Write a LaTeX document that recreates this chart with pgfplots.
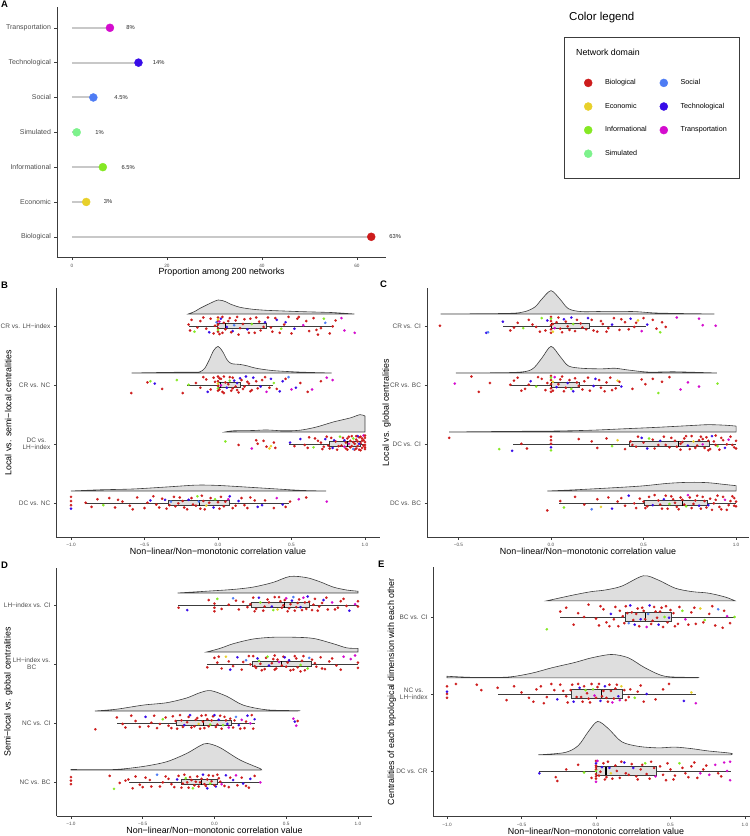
\documentclass[border=0pt]{standalone}
\usepackage{fontspec}
\setmainfont{Liberation Sans}
\usepackage{pgfplots}
\pgfplotsset{compat=1.18}
\usepgfplotslibrary{statistics}
\definecolor{bio}{RGB}{205,28,28}
\definecolor{eco}{RGB}{232,208,42}
\definecolor{inf}{RGB}{133,232,36}
\definecolor{sim}{RGB}{125,242,140}
\definecolor{soc}{RGB}{78,124,244}
\definecolor{tec}{RGB}{56,12,232}
\definecolor{tra}{RGB}{212,12,206}
\definecolor{axgray}{RGB}{60,60,60}
\definecolor{txtgray}{RGB}{77,77,77}
\definecolor{densgray}{RGB}{222,222,222}
\definecolor{seggray}{RGB}{200,200,200}
\tikzset{pct/.style={anchor=west, font=\fontsize{5.8}{6.5}\selectfont, text=black!85, inner sep=0pt}}
\pgfplotsset{
  base/.style={scale only axis, clip=false,
    axis x line*=bottom, axis y line*=left,
    axis line style={draw=axgray, line width=0.6pt},
    tick align=outside, major tick length=2.5pt,
    tick style={draw=axgray, line width=0.5pt},
    xticklabel style={font=\fontsize{4.7}{5.5}\selectfont, text=txtgray},
    yticklabel style={font=\fontsize{6.5}{7.4}\selectfont, text=txtgray, align=center},
    xlabel style={font=\fontsize{8.9}{10}\selectfont, at={(axis description cs:0.5,0)}, anchor=center, yshift=-14.5pt},
    ylabel style={font=\fontsize{8.9}{10}\selectfont, anchor=center},
  },
  rain/.style={base,
    xlabel={Non−linear/Non−monotonic correlation value},
    boxplot/draw direction=x,
    boxplot/box extend=0.1,
    boxplot/whisker extend=0,
    boxplot/every box/.style={draw=axgray, fill=black!30, fill opacity=0.4, line width=0.6pt},
    boxplot/every whisker/.style={draw=axgray, line width=0.5pt},
    boxplot/every median/.style={draw=black, line width=1.1pt},
  },
  dens/.style={fill=densgray, draw=axgray, line width=0.6pt, smooth, tension=0.5},
  pts/.style={only marks, scatter, scatter src=explicit symbolic, mark size=1.25pt,
    mark options={line width=0.15pt},
    scatter/classes={r={mark=*,bio}, e={mark=*,eco}, g={mark=*,inf}, s={mark=*,sim},
      l={mark=*,soc}, t={mark=*,tec}, m={mark=*,tra}}},
  seg/.style={draw=seggray, line width=2pt, forget plot},
}
\begin{document}
\begin{tikzpicture}
\useasboundingbox (0pt,0pt) rectangle (750pt,-836pt);

% ---------------- Panel A ----------------
\begin{axis}[base, at={(57pt,-257.7pt)}, anchor=south west, width=329.2pt, height=250.8pt,
  xmin=-3.15, xmax=66.15, ymin=0.4, ymax=7.6,
  xtick={0,20,40,60}, xticklabels={0,20,40,60},
  ytick={1,2,3,4,5,6,7},
  yticklabels={Biological,Economic,Informational,Simulated,Social,Technological,Transportation},
  yticklabel style={font=\fontsize{7}{8}\selectfont},
  xlabel={Proportion among 200 networks},
  legend columns=2, legend cell align=left,
  legend image code/.code={\draw[#1] plot coordinates {(0pt,0pt)};},
  legend style={at={(axis description cs:1.6009,0.7137)}, anchor=north west, draw=none, fill=none,
    inner sep=0pt, font=\fontsize{7.2}{8}\selectfont, row sep=15.6pt, nodes={inner sep=0pt},
    /tikz/every odd column/.style={column sep=12.8pt},
    /tikz/every even column/.style={column sep=4.8pt}},
]
\addplot[seg] coordinates {(0,1) (63,1)};
\addplot[seg] coordinates {(0,2) (3,2)};
\addplot[seg] coordinates {(0,3) (6.5,3)};
\addplot[seg] coordinates {(0,4) (1,4)};
\addplot[seg] coordinates {(0,5) (4.5,5)};
\addplot[seg] coordinates {(0,6) (14,6)};
\addplot[seg] coordinates {(0,7) (8,7)};
\addplot[only marks, mark=*, mark size=4pt, bio] coordinates {(63,1)};
\addlegendentry{\makebox[50pt][l]{Biological}}
\addplot[only marks, mark=*, mark size=4pt, soc] coordinates {(4.5,5)};
\addlegendentry{\makebox[50pt][l]{Social}}
\addplot[only marks, mark=*, mark size=4pt, eco] coordinates {(3,2)};
\addlegendentry{\makebox[50pt][l]{Economic}}
\addplot[only marks, mark=*, mark size=4pt, tec] coordinates {(14,6)};
\addlegendentry{\makebox[50pt][l]{Technological}}
\addplot[only marks, mark=*, mark size=4pt, inf] coordinates {(6.5,3)};
\addlegendentry{\makebox[50pt][l]{Informational}}
\addplot[only marks, mark=*, mark size=4pt, tra] coordinates {(8,7)};
\addlegendentry{\makebox[50pt][l]{Transportation}}
\addplot[only marks, mark=*, mark size=4pt, sim] coordinates {(1,4)};
\addlegendentry{\makebox[50pt][l]{Simulated}}
\node[pct] at (axis cs:66.8,1) {63\%};
\node[pct] at (axis cs:6.7,2) {3\%};
\node[pct] at (axis cs:10.4,3) {6.5\%};
\node[pct] at (axis cs:4.9,4) {1\%};
\node[pct] at (axis cs:8.9,5) {4.5\%};
\node[pct] at (axis cs:17,6) {14\%};
\node[pct] at (axis cs:11.4,7) {8\%};
\end{axis}

% ---------------- Panel B ----------------
\begin{axis}[rain, at={(56.3pt,-537pt)}, anchor=south west, width=323.4pt, height=249pt,
  xmin=-1.1, xmax=1.1, ymin=0.42, ymax=4.64,
  xtick={-1,-0.5,0,0.5,1}, xticklabels={−1.0,−0.5,0.0,0.5,1.0},
  ytick={1,2,3,4}, yticklabels={DC vs. NC,{DC vs.\\LH−index},CR vs. NC,CR vs. LH−index},
  ylabel={Local vs. semi−local centralities},
  ylabel style={at={(axis description cs:-0.1484,0.5)}},
]
\addplot[dens] coordinates {(-0.202,4.2)(-0.16,4.24)(-0.122,4.296)(-0.054,4.38)(0.002,4.437)(0.05,4.41)(0.082,4.37)(0.150,4.313)(0.240,4.279)(0.331,4.262)(0.45,4.25)(0.558,4.24)(0.70,4.23)(0.785,4.223)(0.928,4.2)} -- cycle;
\addplot[dens] coordinates {(-0.587,3.2)(-0.349,3.21)(-0.16,3.215)(-0.122,3.22)(-0.09,3.28)(-0.06,3.42)(-0.03,3.58)(0.0,3.65)(0.03,3.57)(0.06,3.43)(0.09,3.36)(0.15,3.345)(0.20,3.32)(0.26,3.28)(0.376,3.24)(0.558,3.215)(0.773,3.2)} -- cycle;
\addplot[dens] coordinates {(0.048,2.2)(0.104,2.22)(0.240,2.225)(0.331,2.234)(0.444,2.22)(0.558,2.23)(0.671,2.285)(0.785,2.37)(0.898,2.437)(0.966,2.494)(1.0,2.47)} -- (1.0,2.2) -- cycle;
\addplot[dens] coordinates {(-1.0,1.2)(-0.803,1.22)(-0.576,1.234)(-0.349,1.268)(-0.145,1.30)(-0.009,1.295)(0.104,1.28)(0.331,1.245)(0.558,1.211)(0.735,1.2)} -- cycle;
\addplot[pts] table[meta=c, row sep=\\]{x y c\\
-0.20 4.02 r\\ -0.19 3.92 r\\ -0.16 3.90 g\\ -0.12 4.08 r\\ -0.08 3.95 r\\ -0.05 4.12 r\\ -0.03 3.87 r\\ -0.01 4.06 l\\
0 4.14 r\\ 0 4.08 r\\ 0 4.02 r\\ 0 3.96 r\\ 0 3.90 r\\ 0 4.11 e\\ 0 3.93 g\\
0.02 4.12 t\\ 0.03 3.88 r\\ 0.04 4.05 r\\ 0.06 3.98 t\\ 0.08 4.13 r\\ 0.10 3.91 t\\ 0.12 4.09 r\\ 0.14 3.85 r\\ 0.17 4.03 r\\ 0.20 3.94 t\\ 0.22 4.12 r\\ 0.25 3.88 r\\ 0.28 4.07 r\\ 0.31 3.98 r\\
0.34 4.14 r\\ 0.37 3.90 r\\ 0.40 4.10 t\\ 0.43 3.95 g\\ 0.46 4.06 t\\ 0.50 3.87 r\\ 0.54 4.12 r\\ 0.58 4.01 m\\ 0.62 3.91 r\\ 0.65 4.13 r\\ 0.70 3.96 r\\ 0.73 4.05 l\\ 0.76 3.87 r\\ 0.80 4.09 r\\ 0.84 4.13 m\\ 0.86 3.92 m\\ 0.93 3.88 m\\ 0.55 4.15 r\\ 0.48 4.15 r\\ 0.68 3.85 r\\
-0.18 4.10 r\\ -0.14 3.97 r\\ -0.10 4.14 r\\ -0.06 3.89 t\\ -0.02 4.00 r\\ 0.01 3.86 r\\ 0.01 4.07 m\\ 0.03 4.15 r\\ 0.05 3.94 r\\ 0.07 4.08 r\\ 0.09 3.89 r\\ 0.11 4.01 l\\ 0.13 4.15 r\\ 0.15 3.96 r\\ 0.18 4.11 r\\
0.21 3.88 r\\ 0.23 4.03 g\\ 0.26 4.14 r\\ 0.29 3.92 r\\ 0.32 4.06 t\\ 0.36 3.97 r\\ 0.39 4.13 r\\ 0.42 3.88 r\\ 0.45 4.02 r\\ 0.52 3.95 t\\ 0.60 4.08 r\\ 0.67 3.93 r\\ 0.72 4.12 g\\ 0.78 3.99 r\\
-0.59 2.86 r\\ -0.48 3.04 r\\ -0.46 3.06 g\\ -0.43 3.02 t\\ -0.38 2.93 r\\ -0.28 3.08 g\\ -0.24 2.86 r\\ -0.20 3.00 g\\ -0.15 3.03 r\\ -0.08 3.09 r\\ -0.05 2.92 r\\ -0.03 3.12 r\\
0 3.14 r\\ 0 3.06 r\\ 0 2.98 r\\ 0 2.90 r\\ 0 3.02 e\\ 0 2.94 g\\ 0.02 3.10 r\\ 0.03 2.88 r\\ 0.05 3.04 r\\ 0.06 2.95 t\\ 0.08 3.13 r\\ 0.09 2.90 r\\ 0.11 3.07 t\\ 0.12 2.97 r\\ 0.14 2.87 r\\ 0.15 3.11 t\\
0.17 2.93 r\\ 0.20 3.05 r\\ 0.22 2.89 r\\ 0.24 3.12 t\\ 0.27 2.94 r\\ 0.30 3.08 r\\ 0.33 2.88 m\\ 0.36 3.10 t\\ 0.40 2.93 r\\ 0.44 3.06 t\\ 0.48 3.13 l\\ 0.50 2.92 m\\ 0.56 3.03 r\\ 0.61 2.88 r\\ 0.64 2.92 m\\ 0.70 3.06 r\\ 0.74 3.12 m\\ 0.78 3.08 m\\
-0.12 2.95 r\\ -0.10 3.13 r\\ -0.07 2.88 t\\ -0.02 3.05 r\\ 0.01 2.92 r\\ 0.01 3.11 r\\ 0.02 2.99 m\\ 0.04 3.14 r\\ 0.04 2.86 r\\ 0.07 3.01 r\\ 0.08 3.07 g\\ 0.10 2.94 r\\ 0.10 3.12 r\\ 0.13 3.03 t\\
0.13 2.91 r\\ 0.16 3.08 r\\ 0.18 2.97 r\\ 0.19 3.14 t\\ 0.21 3.02 r\\ 0.23 2.91 r\\ 0.26 3.06 r\\ 0.29 2.97 t\\ 0.32 3.13 r\\ 0.35 2.95 r\\ 0.38 3.03 g\\ 0.42 2.89 t\\ 0.46 3.10 r\\ 0.53 2.95 t\\
0.05 2.04 g\\ 0.14 1.98 r\\ 0.23 1.92 m\\ 0.26 2.06 r\\ 0.27 2.00 r\\ 0.31 2.05 r\\ 0.33 1.95 r\\ 0.35 1.92 e\\ 0.36 1.96 e\\ 0.38 2.02 r\\ 0.39 1.93 r\\
0.49 2.02 t\\ 0.52 1.96 r\\ 0.56 2.08 t\\ 0.59 1.98 r\\ 0.62 2.11 r\\ 0.65 1.94 g\\ 0.68 2.05 r\\ 0.71 1.91 r\\ 0.73 2.08 t\\ 0.75 1.97 r\\ 0.77 2.10 r\\ 0.78 1.93 t\\ 0.80 2.04 r\\ 0.81 1.90 r\\ 0.83 2.12 g\\ 0.84 1.97 r\\
0.86 2.06 t\\ 0.87 1.92 r\\ 0.88 2.09 r\\ 0.89 2.00 m\\ 0.90 1.94 r\\ 0.91 2.13 r\\ 0.92 2.03 r\\ 0.93 1.90 r\\ 0.94 2.07 r\\ 0.95 1.96 r\\ 0.96 2.11 r\\ 0.97 2.01 r\\ 0.98 1.93 r\\ 0.99 2.06 r\\ 1.00 1.98 r\\ 1.00 2.10 r\\ 1.00 1.91 r\\ 0.99 2.14 m\\ 0.97 1.89 r\\ 0.95 2.13 t\\ 0.92 1.91 l\\
0.70 2.02 r\\ 0.72 1.95 r\\ 0.74 2.12 r\\ 0.76 1.92 r\\ 0.79 2.06 t\\ 0.82 1.96 r\\ 0.85 2.10 r\\ 0.87 2.02 r\\ 0.88 1.90 r\\ 0.89 2.12 r\\ 0.90 2.05 r\\ 0.91 1.96 r\\ 0.92 2.09 g\\ 0.93 2.00 r\\ 0.94 1.92 r\\
0.95 2.04 r\\ 0.96 1.90 r\\ 0.97 2.12 r\\ 0.98 2.05 r\\ 0.99 1.97 r\\ 1.00 2.14 r\\ 1.00 2.03 r\\ 1.00 1.94 r\\ 0.98 2.09 r\\ 0.96 2.00 t\\ 0.94 2.13 r\\ 0.86 1.95 m\\ 0.61 1.93 r\\ 0.66 2.09 r\\
-1.00 1.10 r\\ -1.00 1.03 r\\ -1.00 0.96 r\\ -1.00 0.90 t\\ -0.90 1.00 r\\ -0.82 1.06 r\\ -0.78 0.96 g\\ -0.74 1.08 r\\ -0.70 0.92 r\\ -0.65 1.02 r\\ -0.60 0.95 r\\ -0.55 1.09 r\\ -0.50 0.91 r\\ -0.46 1.04 t\\ -0.42 0.97 r\\
-0.38 1.07 r\\ -0.35 0.90 r\\ -0.32 1.02 l\\ -0.29 0.94 r\\ -0.26 1.09 r\\ -0.23 0.92 r\\ -0.20 1.05 t\\ -0.17 0.97 r\\ -0.14 1.11 g\\ -0.12 0.90 r\\ -0.10 1.03 r\\ -0.08 0.95 e\\ -0.05 1.08 r\\ -0.03 0.92 t\\ 0.00 1.01 r\\
0.02 1.10 r\\ 0.04 0.94 r\\ 0.07 1.06 m\\ 0.10 0.91 r\\ 0.14 1.03 t\\ 0.18 0.96 r\\ 0.22 1.09 r\\ 0.27 0.93 t\\ 0.32 1.04 r\\ 0.38 0.91 r\\ 0.44 0.97 t\\ 0.49 1.02 r\\ 0.55 1.06 m\\ 0.60 1.09 r\\ 0.74 1.02 m\\
-0.86 0.93 r\\ -0.68 1.05 r\\ -0.58 0.89 r\\ -0.48 1.00 r\\ -0.44 1.11 r\\ -0.40 0.92 r\\ -0.36 1.05 t\\ -0.33 0.96 r\\ -0.30 1.10 r\\ -0.27 0.99 r\\ -0.24 1.03 r\\ -0.21 0.89 r\\ -0.18 1.08 r\\ -0.15 0.95 r\\ -0.13 1.02 l\\
-0.11 1.12 r\\ -0.09 0.89 r\\ -0.06 1.00 r\\ -0.02 1.06 g\\ 0.01 0.90 r\\ 0.05 1.02 r\\ 0.08 1.11 t\\ 0.12 0.95 r\\ 0.16 1.08 r\\ 0.20 0.91 r\\ 0.25 1.04 r\\ 0.30 0.96 t\\ 0.40 1.08 m\\ 0.46 0.93 r\\
};
\addplot[boxplot prepared={lower whisker=-0.195, lower quartile=-0.005, median=0.05, upper quartile=0.331, upper whisker=0.791, draw position=4}] coordinates {};
\addplot[boxplot prepared={lower whisker=-0.21, lower quartile=0.002, median=0.014, upper quartile=0.15, upper whisker=0.376, draw position=3}] coordinates {};
\addplot[boxplot prepared={lower whisker=0.485, lower quartile=0.758, median=0.882, upper quartile=0.97, upper whisker=1.0, draw position=2}] coordinates {};
\addplot[boxplot prepared={lower whisker=-0.905, lower quartile=-0.338, median=-0.127, upper quartile=0.077, upper whisker=0.485, draw position=1}] coordinates {};
\end{axis}

% ---------------- Panel C ----------------
\begin{axis}[rain, at={(427pt,-537pt)}, anchor=south west, width=322pt, height=249pt,
  xmin=-0.67, xmax=1.07, ymin=0.42, ymax=4.64,
  xtick={-0.5,0,0.5,1}, xticklabels={−0.5,0.0,0.5,1.0},
  ytick={1,2,3,4}, yticklabels={DC vs. BC,DC vs. CI,CR vs. BC,CR vs. CI},
  ylabel={Local vs. global centralities},
  ylabel style={at={(axis description cs:-0.1252,0.5)}},
]
\addplot[dens] coordinates {(-0.596,4.2)(-0.231,4.21)(-0.141,4.24)(-0.086,4.32)(-0.05,4.45)(0.0,4.595)(0.049,4.45)(0.094,4.29)(0.166,4.24)(0.31,4.245)(0.454,4.24)(0.58,4.215)(0.883,4.2)} -- cycle;
\addplot[dens] coordinates {(-0.514,3.2)(-0.195,3.21)(-0.104,3.26)(-0.05,3.45)(0.0,3.65)(0.049,3.48)(0.094,3.32)(0.166,3.28)(0.274,3.27)(0.346,3.28)(0.418,3.25)(0.526,3.215)(0.67,3.22)(0.896,3.2)} -- cycle;
\addplot[dens] coordinates {(-0.55,2.2)(-0.231,2.21)(0.0,2.215)(0.22,2.23)(0.4,2.255)(0.58,2.28)(0.76,2.31)(0.85,2.324)(0.94,2.315)(1.0,2.30)} -- (1.0,2.2) -- cycle;
\addplot[dens] coordinates {(-0.02,1.2)(0.13,1.22)(0.31,1.25)(0.49,1.285)(0.634,1.33)(0.751,1.347)(0.85,1.34)(0.94,1.31)(1.0,1.29)} -- (1.0,1.2) -- cycle;
\addplot[pts] table[meta=c, row sep=\\]{x y c\\
-0.60 4.00 r\\ -0.35 3.88 t\\ -0.34 3.89 l\\ -0.26 4.07 t\\ -0.22 3.92 r\\ -0.18 4.05 r\\ -0.15 3.96 g\\ -0.12 4.10 r\\ -0.08 3.98 r\\ -0.05 4.13 g\\ -0.03 3.92 r\\
0 4.15 r\\ 0 4.08 r\\ 0 4.01 r\\ 0 3.94 r\\ 0 3.88 r\\ 0 4.12 g\\ 0.01 3.90 e\\
0.03 4.06 r\\ 0.05 3.95 r\\ 0.07 4.11 t\\ 0.09 3.99 r\\ 0.11 4.14 t\\ 0.13 3.91 r\\ 0.16 4.04 r\\ 0.19 3.94 r\\ 0.22 4.10 r\\ 0.25 3.90 r\\ 0.28 4.03 r\\ 0.31 3.96 r\\ 0.34 4.13 r\\ 0.37 3.93 r\\ 0.40 4.06 r\\
0.43 4.12 t\\ 0.45 3.98 r\\ 0.47 4.09 e\\ 0.49 3.91 m\\ 0.52 4.02 t\\ 0.55 4.10 r\\ 0.59 3.89 g\\ 0.62 3.98 r\\ 0.68 4.14 m\\ 0.80 4.12 m\\ 0.82 4.01 m\\ 0.89 4.00 m\\
-0.20 3.97 r\\ -0.10 4.02 r\\ -0.06 3.90 r\\ -0.02 4.09 t\\ 0.01 4.03 r\\ 0.02 3.96 m\\ 0.04 4.14 r\\ 0.06 3.89 r\\ 0.08 4.07 r\\ 0.10 3.93 r\\ 0.12 4.03 g\\ 0.14 4.10 r\\
0.17 3.97 r\\ 0.20 4.13 t\\ 0.23 3.92 r\\ 0.27 4.08 r\\ 0.30 3.90 r\\ 0.33 4.02 t\\ 0.38 4.11 r\\ 0.42 3.94 r\\ 0.46 4.05 r\\ 0.50 4.13 r\\ 0.57 3.95 r\\ 0.60 4.06 r\\
-0.52 3.02 m\\ -0.43 3.14 r\\ -0.39 2.88 r\\ -0.33 3.03 r\\ -0.22 3.00 r\\ -0.18 3.12 r\\ -0.14 2.93 r\\ -0.11 3.06 t\\ -0.08 2.97 g\\ -0.05 3.10 r\\ -0.03 2.91 r\\
0 3.15 r\\ 0 3.08 r\\ 0 3.01 r\\ 0 2.94 r\\ 0 2.88 r\\ 0 3.12 g\\ 0.01 3.05 e\\
0.03 2.96 t\\ 0.05 3.09 r\\ 0.07 2.89 r\\ 0.09 3.03 t\\ 0.11 2.93 g\\ 0.13 3.11 r\\ 0.15 2.98 r\\ 0.18 3.06 r\\ 0.21 2.90 r\\ 0.24 3.10 t\\ 0.27 2.95 r\\ 0.30 3.04 r\\ 0.33 2.91 r\\ 0.36 3.07 e\\ 0.38 2.97 t\\
0.49 3.09 r\\ 0.51 3.01 r\\ 0.58 2.86 g\\ 0.60 3.05 r\\ 0.64 3.13 r\\ 0.70 2.92 m\\ 0.74 3.04 m\\ 0.80 2.97 m\\ 0.90 3.02 g\\
-0.20 3.07 r\\ -0.16 2.90 r\\ -0.12 3.00 r\\ -0.07 3.13 r\\ -0.02 3.03 r\\ 0.01 2.90 r\\ 0.02 3.13 m\\ 0.04 3.01 r\\ 0.06 3.14 r\\ 0.08 2.95 r\\ 0.10 3.08 r\\ 0.12 2.89 t\\
0.14 3.04 r\\ 0.17 2.92 r\\ 0.20 3.12 r\\ 0.23 2.98 t\\ 0.26 3.08 r\\ 0.29 2.89 r\\ 0.32 3.12 r\\ 0.35 2.94 r\\ 0.37 3.05 r\\ 0.44 2.93 r\\ 0.55 3.10 r\\
-0.55 2.10 r\\ -0.28 1.91 g\\ -0.21 1.88 t\\ -0.16 2.00 r\\ -0.13 1.92 r\\ 0 2.12 r\\ 0 2.06 r\\ 0 2.00 r\\ 0 1.94 t\\ 0 1.89 g\\
0.15 2.08 r\\ 0.22 2.04 r\\ 0.25 1.93 r\\ 0.30 2.09 r\\ 0.33 1.96 g\\ 0.36 2.06 e\\ 0.40 1.91 r\\
0.43 2.04 r\\ 0.46 1.95 r\\ 0.49 2.10 t\\ 0.52 1.92 t\\ 0.55 2.07 r\\ 0.58 1.98 r\\ 0.61 2.12 r\\ 0.64 1.94 r\\ 0.67 2.05 r\\ 0.70 1.90 r\\ 0.72 2.09 r\\ 0.74 1.97 t\\ 0.76 2.13 r\\ 0.78 1.93 r\\
0.80 2.06 r\\ 0.82 1.99 m\\ 0.84 2.11 r\\ 0.86 1.91 r\\ 0.88 2.04 r\\ 0.90 1.96 g\\ 0.92 2.10 r\\ 0.94 1.93 t\\ 0.96 2.07 m\\ 0.98 1.98 r\\ 1.00 2.05 r\\ 1.00 1.92 r\\ 0.85 1.89 r\\ 0.89 2.14 r\\
0.44 1.98 r\\ 0.47 2.12 r\\ 0.50 2.02 r\\ 0.53 2.09 g\\ 0.56 1.92 r\\ 0.59 2.05 t\\ 0.62 1.98 r\\ 0.65 2.10 r\\ 0.68 1.95 r\\ 0.71 2.03 r\\ 0.73 2.13 r\\ 0.75 1.91 r\\ 0.77 2.04 e\\
0.79 1.97 r\\ 0.81 2.12 r\\ 0.83 1.93 r\\ 0.85 2.05 r\\ 0.87 2.13 t\\ 0.89 1.98 r\\ 0.91 1.90 r\\ 0.93 2.06 r\\ 0.95 1.99 r\\ 0.97 2.12 r\\ 0.99 1.94 r\\ 0.70 2.00 r\\ 0.82 2.08 r\\
-0.02 0.87 r\\ 0.05 1.03 r\\ 0.07 0.92 g\\ 0.13 1.10 r\\ 0.18 0.97 r\\ 0.22 0.89 l\\ 0.25 1.06 r\\ 0.27 0.93 e\\ 0.31 1.09 r\\ 0.33 0.90 t\\ 0.36 1.02 r\\ 0.40 0.95 r\\ 0.42 1.12 t\\ 0.45 0.99 r\\ 0.48 1.07 r\\
0.51 0.91 r\\ 0.53 1.10 r\\ 0.55 0.96 t\\ 0.58 1.04 r\\ 0.60 0.90 r\\ 0.62 1.12 r\\ 0.64 0.98 g\\ 0.66 1.06 r\\ 0.68 0.93 r\\ 0.70 1.09 r\\ 0.72 0.97 r\\ 0.74 1.13 m\\ 0.76 0.91 r\\ 0.78 1.04 r\\
0.80 0.95 t\\ 0.82 1.10 r\\ 0.84 0.92 r\\ 0.86 1.07 r\\ 0.88 0.99 r\\ 0.90 1.12 r\\ 0.92 0.89 r\\ 0.94 1.05 m\\ 0.96 0.96 r\\ 0.98 1.11 r\\ 1.00 1.02 r\\ 1.00 0.94 r\\ 0.99 1.08 r\\ 0.87 0.88 r\\
0.50 1.02 r\\ 0.52 0.94 r\\ 0.56 1.13 r\\ 0.59 0.97 r\\ 0.61 1.06 t\\ 0.63 0.90 r\\ 0.65 1.11 r\\ 0.67 1.00 r\\ 0.69 0.89 r\\ 0.71 1.05 r\\ 0.73 0.94 g\\ 0.75 1.09 r\\ 0.77 0.98 r\\
0.79 1.12 r\\ 0.81 0.90 r\\ 0.83 1.03 r\\ 0.85 0.96 t\\ 0.89 1.05 r\\ 0.91 0.93 r\\ 0.93 1.10 r\\ 0.95 0.88 r\\ 0.97 1.03 r\\ 0.99 0.95 r\\ 0.38 1.08 r\\ 0.46 0.91 r\\
};
\addplot[boxplot prepared={lower whisker=-0.261, lower quartile=0.0, median=0.003, upper quartile=0.207, upper whisker=0.512, draw position=4}] coordinates {};
\addplot[boxplot prepared={lower whisker=-0.222, lower quartile=0.0, median=0.003, upper quartile=0.151, upper whisker=0.373, draw position=3}] coordinates {};
\addplot[boxplot prepared={lower whisker=-0.204, lower quartile=0.423, median=0.688, upper quartile=0.856, upper whisker=1.0, draw position=2}] coordinates {};
\addplot[boxplot prepared={lower whisker=0.045, lower quartile=0.504, median=0.71, upper quartile=0.842, upper whisker=1.0, draw position=1}] coordinates {};
\end{axis}

% ---------------- Panel D ----------------
\begin{axis}[rain, at={(56.6pt,-816pt)}, anchor=south west, width=315.7pt, height=248pt,
  xmin=-1.1, xmax=1.1, ymin=0.42, ymax=4.623,
  xtick={-1,-0.5,0,0.5,1}, xticklabels={−1.0,−0.5,0.0,0.5,1.0},
  ytick={1,2,3,4}, yticklabels={NC vs. BC,NC vs. CI,{LH−index vs.\\BC},LH−index vs. CI},
  ylabel={Semi−local vs. global centralities},
  ylabel style={at={(axis description cs:-0.153,0.5)}},
]
\addplot[dens] coordinates {(-0.257,4.2)(-0.054,4.23)(0.131,4.26)(0.270,4.30)(0.410,4.38)(0.526,4.48)(0.642,4.46)(0.735,4.39)(0.828,4.30)(0.921,4.25)(1.0,4.23)} -- (1.0,4.2) -- cycle;
\addplot[dens] coordinates {(-0.054,3.2)(0.038,3.26)(0.131,3.34)(0.27,3.42)(0.41,3.45)(0.549,3.45)(0.689,3.43)(0.828,3.34)(0.921,3.27)(1.0,3.26)} -- (1.0,3.2) -- cycle;
\addplot[dens] coordinates {(-0.833,2.2)(-0.682,2.23)(-0.496,2.30)(-0.333,2.34)(-0.194,2.42)(-0.101,2.51)(-0.026,2.545)(0.085,2.45)(0.2,2.30)(0.364,2.22)(0.58,2.205)(0.58,2.2)} -- cycle;
\addplot[dens] coordinates {(-1.0,1.21)(-0.891,1.205)(-0.682,1.21)(-0.496,1.26)(-0.333,1.34)(-0.194,1.48)(-0.101,1.61)(-0.05,1.65)(0.038,1.58)(0.178,1.37)(0.322,1.22)(0.322,1.2)} -- (-1.0,1.2) -- cycle;
\addplot[pts] table[meta=c, row sep=\\]{x y c\\
-0.25 3.95 r\\ -0.19 3.91 t\\ -0.04 4.08 r\\ 0 4.02 r\\ 0 3.95 r\\ 0 3.89 r\\ 0.02 4.10 g\\ 0.10 4.00 r\\ 0.13 4.11 l\\ 0.17 3.92 r\\ 0.20 4.05 r\\ 0.23 3.96 r\\
0.27 4.12 r\\ 0.29 3.93 r\\ 0.32 4.04 g\\ 0.34 3.90 r\\ 0.37 4.09 r\\ 0.40 3.97 t\\ 0.42 4.13 r\\ 0.44 3.92 e\\ 0.46 4.06 r\\ 0.48 3.99 r\\
0.50 4.11 m\\ 0.52 3.94 r\\ 0.54 4.07 t\\ 0.56 3.90 r\\ 0.58 4.03 r\\ 0.60 3.96 t\\ 0.62 4.12 m\\ 0.64 3.93 r\\ 0.66 4.05 r\\
0.68 3.91 r\\ 0.70 4.10 r\\ 0.73 3.97 r\\ 0.76 4.08 t\\ 0.79 3.92 r\\ 0.82 4.04 m\\ 0.86 3.95 r\\ 0.90 4.10 r\\ 0.94 3.90 t\\ 0.98 4.01 m\\ 1.00 4.06 r\\ 1.00 3.97 r\\
0.05 3.93 r\\ 0.15 4.07 r\\ 0.25 4.01 r\\ 0.28 3.89 r\\ 0.31 4.12 t\\ 0.35 3.97 r\\ 0.38 4.04 r\\ 0.41 3.91 g\\ 0.45 4.13 r\\ 0.47 3.95 r\\ 0.49 4.08 r\\ 0.51 3.89 r\\ 0.53 4.01 r\\
0.55 4.13 l\\ 0.57 3.96 r\\ 0.59 4.09 r\\ 0.61 3.91 r\\ 0.63 4.04 r\\ 0.65 4.14 t\\ 0.69 4.00 r\\ 0.72 3.90 r\\ 0.75 4.03 r\\ 0.78 4.12 r\\ 0.84 3.92 r\\ 0.88 4.06 r\\ 0.92 3.98 r\\
-0.05 2.94 r\\ 0.00 3.10 r\\ 0.02 3.02 r\\ 0.05 2.92 r\\ 0.08 3.12 e\\ 0.10 3.04 r\\ 0.13 2.96 r\\ 0.16 3.11 t\\ 0.19 2.90 r\\ 0.22 3.06 l\\ 0.25 2.99 r\\
0.27 3.13 r\\ 0.29 2.93 r\\ 0.31 3.05 g\\ 0.33 2.89 r\\ 0.36 3.10 r\\ 0.38 2.97 t\\ 0.41 3.08 r\\ 0.43 2.92 r\\ 0.45 3.03 m\\
0.48 3.12 r\\ 0.50 2.95 r\\ 0.52 3.06 t\\ 0.55 2.90 r\\ 0.57 3.09 r\\ 0.60 2.98 g\\ 0.62 3.13 r\\ 0.65 2.92 g\\
0.68 3.07 r\\ 0.71 2.95 r\\ 0.74 3.11 r\\ 0.77 2.91 r\\ 0.80 3.04 r\\ 0.85 2.97 r\\ 0.90 3.12 m\\ 0.95 3.08 m\\ 0.98 3.14 m\\ 1.00 2.93 r\\ 1.00 3.02 r\\ 0.60 2.87 r\\ 0.42 3.14 r\\
0.03 3.12 r\\ 0.11 2.90 t\\ 0.20 3.03 r\\ 0.24 3.13 r\\ 0.28 2.96 r\\ 0.30 3.09 t\\ 0.32 3.00 r\\ 0.35 2.91 r\\ 0.37 3.12 g\\ 0.40 3.01 r\\ 0.42 2.90 r\\ 0.44 3.07 r\\ 0.47 2.97 r\\
0.49 3.11 t\\ 0.51 3.02 r\\ 0.53 2.89 r\\ 0.56 3.13 r\\ 0.58 2.94 r\\ 0.61 3.05 r\\ 0.63 2.89 r\\ 0.66 3.10 l\\ 0.70 3.01 r\\ 0.75 2.92 r\\ 0.82 3.09 r\\ 0.88 2.90 r\\
-0.83 1.89 r\\ -0.68 2.09 r\\ -0.64 1.98 r\\ -0.58 2.12 r\\ -0.52 1.93 r\\ -0.48 2.10 t\\ -0.44 2.00 r\\ -0.40 1.91 r\\ -0.36 2.06 g\\ -0.32 1.95 r\\ -0.29 2.11 r\\
-0.26 1.90 r\\ -0.23 2.04 r\\ -0.21 1.96 t\\ -0.18 2.10 r\\ -0.16 1.92 r\\ -0.13 2.05 r\\ -0.11 1.98 e\\ -0.09 2.12 r\\
-0.07 1.91 r\\ -0.05 2.06 r\\ -0.03 1.97 g\\ -0.01 2.11 r\\ 0.01 1.93 r\\ 0.03 2.05 t\\ 0.05 1.90 r\\ 0.07 2.10 r\\ 0.09 1.98 t\\ 0.11 2.07 r\\
0.13 1.92 r\\ 0.15 2.10 l\\ 0.17 1.96 t\\ 0.19 2.05 m\\ 0.21 1.91 r\\ 0.23 2.12 t\\ 0.25 1.99 m\\ 0.27 1.90 r\\ 0.28 2.06 t\\ 0.55 2.07 m\\ 0.56 2.02 t\\ 0.57 1.95 m\\ 0.58 2.03 r\\
-0.62 1.92 r\\ -0.55 2.03 r\\ -0.46 1.94 r\\ -0.42 2.12 r\\ -0.38 1.98 r\\ -0.34 2.09 r\\ -0.30 1.91 r\\ -0.27 2.03 r\\ -0.24 2.13 r\\ -0.22 1.93 r\\ -0.19 2.01 r\\ -0.17 2.13 t\\ -0.14 1.94 r\\ -0.12 2.08 r\\ -0.10 1.90 r\\
-0.08 2.02 r\\ -0.06 2.13 r\\ -0.04 1.94 r\\ -0.02 2.04 r\\ 0.00 2.13 t\\ 0.02 1.97 r\\ 0.04 2.12 r\\ 0.06 1.96 g\\ 0.08 2.04 r\\ 0.10 1.92 m\\ 0.14 2.04 r\\ 0.18 1.90 r\\ 0.22 2.02 r\\ 0.26 2.13 r\\
-1.00 1.08 r\\ -1.00 1.02 r\\ -1.00 0.96 r\\ -0.73 1.10 r\\ -0.70 0.88 g\\ -0.66 0.98 r\\ -0.60 1.04 r\\ -0.57 0.89 r\\ -0.52 0.95 r\\ -0.48 1.07 r\\ -0.44 0.92 r\\ -0.40 1.12 l\\ -0.36 0.99 r\\ -0.32 1.05 r\\ -0.28 0.91 r\\
-0.25 1.10 r\\ -0.22 0.97 r\\ -0.20 1.06 g\\ -0.18 0.90 r\\ -0.16 1.03 r\\ -0.14 0.94 r\\ -0.12 1.09 r\\ -0.10 0.99 r\\
-0.08 1.12 t\\ -0.06 0.93 r\\ -0.05 1.04 r\\ -0.03 0.97 g\\ -0.01 1.10 r\\ 0.01 0.92 t\\ 0.03 1.06 r\\
0.05 0.96 m\\ 0.08 1.11 t\\ 0.10 0.91 r\\ 0.13 1.03 t\\ 0.16 0.94 r\\ 0.19 1.07 r\\ 0.22 0.93 r\\ 0.25 1.05 t\\ 0.28 1.10 r\\ 0.32 0.99 m\\
-0.62 1.02 r\\ -0.55 1.09 r\\ -0.50 0.91 r\\ -0.45 1.03 r\\ -0.38 0.92 r\\ -0.34 1.09 r\\ -0.30 0.96 r\\ -0.26 1.04 t\\ -0.23 0.90 r\\ -0.21 1.12 r\\ -0.19 0.99 r\\ -0.17 1.08 r\\ -0.15 0.89 g\\ -0.13 1.00 r\\
-0.11 0.92 r\\ -0.09 1.05 r\\ -0.07 0.96 r\\ -0.05 0.89 t\\ -0.04 1.11 r\\ -0.02 1.01 r\\ 0.00 0.94 r\\ 0.02 1.12 r\\ 0.04 1.00 r\\ 0.07 0.93 r\\ 0.11 1.07 r\\ 0.15 1.11 m\\ 0.20 0.97 t\\ 0.24 0.90 r\\
};
\addplot[boxplot prepared={lower whisker=-0.254, lower quartile=0.259, median=0.491, upper quartile=0.661, upper whisker=1.0, draw position=4}] coordinates {};
\addplot[boxplot prepared={lower whisker=-0.054, lower quartile=0.264, median=0.468, upper quartile=0.673, upper whisker=1.0, draw position=3}] coordinates {};
\addplot[boxplot prepared={lower whisker=-0.682, lower quartile=-0.268, median=-0.078, upper quartile=0.12, upper whisker=0.282, draw position=2}] coordinates {};
\addplot[boxplot prepared={lower whisker=-0.594, lower quartile=-0.233, median=-0.09, upper quartile=0.02, upper whisker=0.322, draw position=1}] coordinates {};
\end{axis}

% ---------------- Panel E ----------------
\begin{axis}[rain, at={(433.6pt,-816.7pt)}, anchor=south west, width=324.8pt, height=250pt,
  xmin=-1.09, xmax=1.09, ymin=0.406, ymax=3.653,
  xtick={-1,-0.5,0,0.5,1}, xticklabels={−1.0,−0.5,0.0,0.5,1.0},
  ytick={1,2,3}, yticklabels={DC vs. CR,{NC vs.\\LH−index},BC vs. CI},
  ylabel={Centralities of each topological dimension with each other},
  ylabel style={at={(axis description cs:-0.129,0.5)}},
  boxplot/box extend=0.11,
]
\addplot[dens] coordinates {(-0.331,3.21)(-0.141,3.29)(-0.029,3.33)(0.06,3.35)(0.172,3.40)(0.318,3.535)(0.418,3.48)(0.53,3.375)(0.642,3.33)(0.754,3.31)(0.866,3.26)(0.933,3.21)} -- cycle;
\addplot[dens] coordinates {(-1.0,2.23)(-0.812,2.215)(-0.589,2.22)(-0.432,2.27)(-0.297,2.34)(-0.141,2.41)(-0.029,2.47)(0.105,2.513)(0.217,2.47)(0.329,2.34)(0.463,2.23)(0.676,2.215)(0.676,2.21)} -- (-1.0,2.21) -- cycle;
\addplot[dens] coordinates {(-0.387,1.21)(-0.208,1.24)(-0.119,1.33)(-0.052,1.51)(0.011,1.643)(0.083,1.55)(0.172,1.38)(0.284,1.32)(0.418,1.30)(0.53,1.31)(0.642,1.29)(0.754,1.26)(0.906,1.23)(0.906,1.21)} -- cycle;
\addplot[pts] table[meta=c, row sep=\\]{x y c\\
-0.33 2.84 g\\ -0.24 3.07 r\\ -0.20 3.12 r\\ -0.12 3.05 r\\ -0.05 3.16 r\\ 0.00 2.98 r\\ 0.02 2.89 r\\ 0.05 3.10 r\\ 0.07 2.93 r\\ 0.10 3.04 t\\ 0.13 3.13 r\\ 0.15 2.88 r\\ 0.18 3.01 r\\
0.20 3.14 r\\ 0.22 2.92 l\\ 0.24 3.06 r\\ 0.26 2.90 t\\ 0.28 3.11 r\\ 0.30 2.97 t\\ 0.32 3.08 r\\
0.34 2.87 m\\ 0.36 3.15 t\\ 0.38 2.95 r\\ 0.40 3.07 r\\ 0.42 2.90 t\\ 0.44 3.12 r\\ 0.46 3.00 g\\ 0.48 2.93 r\\ 0.50 3.09 r\\
0.53 2.88 r\\ 0.56 3.13 r\\ 0.60 2.97 m\\ 0.64 3.06 r\\ 0.67 2.91 r\\ 0.70 3.11 e\\ 0.73 2.96 g\\ 0.76 3.04 r\\ 0.80 2.89 r\\ 0.82 3.10 l\\ 0.85 2.86 r\\ 0.88 3.01 m\\ 0.90 2.92 r\\ 0.93 3.00 g\\
-0.15 2.90 r\\ -0.08 3.00 r\\ 0.03 3.14 r\\ 0.09 2.88 r\\ 0.12 2.97 r\\ 0.16 3.08 r\\ 0.19 2.92 r\\ 0.21 3.05 r\\ 0.23 3.15 t\\ 0.25 2.96 r\\ 0.27 3.04 r\\ 0.29 2.88 r\\ 0.31 3.12 r\\ 0.33 2.97 r\\ 0.35 3.04 l\\
0.37 2.91 r\\ 0.39 3.13 r\\ 0.41 2.99 r\\ 0.43 3.07 r\\ 0.45 2.87 r\\ 0.47 3.14 r\\ 0.49 2.99 t\\ 0.52 3.05 r\\ 0.55 2.91 r\\ 0.58 3.08 g\\ 0.62 2.90 r\\ 0.66 3.12 r\\ 0.72 2.93 r\\ 0.78 3.14 r\\ 0.86 3.08 r\\
-1.00 2.10 r\\ -1.00 2.00 r\\ -1.00 1.95 r\\ -1.00 2.03 t\\ -0.94 2.13 r\\ -0.80 2.12 r\\ -0.77 2.05 r\\ -0.66 2.08 r\\ -0.60 1.92 r\\ -0.55 2.10 r\\ -0.45 1.95 r\\ -0.40 2.06 r\\ -0.35 1.88 r\\ -0.30 2.13 r\\ -0.26 1.93 t\\ -0.22 2.04 r\\ -0.19 1.89 r\\
-0.16 2.12 r\\ -0.13 1.96 r\\ -0.11 2.08 t\\ -0.09 1.90 r\\ -0.07 2.05 g\\ -0.05 1.94 r\\ -0.03 2.13 r\\ -0.01 1.98 m\\ 0.01 2.09 r\\
0.03 1.91 t\\ 0.05 2.04 r\\ 0.07 1.95 r\\ 0.09 2.12 r\\ 0.11 1.89 m\\ 0.13 2.07 r\\ 0.15 1.97 t\\ 0.17 2.10 e\\
0.20 1.92 r\\ 0.23 2.06 r\\ 0.26 1.95 g\\ 0.30 2.11 r\\ 0.34 2.00 t\\ 0.40 1.93 r\\ 0.49 2.13 r\\ 0.59 1.91 t\\ 0.64 2.02 e\\ 0.67 1.88 m\\
-0.50 2.02 r\\ -0.42 1.90 r\\ -0.37 2.10 r\\ -0.33 1.96 r\\ -0.28 2.05 r\\ -0.24 2.12 r\\ -0.20 1.97 r\\ -0.17 2.05 r\\ -0.15 1.90 t\\ -0.12 2.13 r\\ -0.10 1.96 r\\ -0.08 2.10 r\\ -0.06 2.01 r\\ -0.04 1.89 r\\ -0.02 2.06 g\\
0.00 1.95 r\\ 0.02 2.13 r\\ 0.04 1.97 r\\ 0.06 2.10 t\\ 0.08 1.90 r\\ 0.10 2.04 r\\ 0.12 1.94 r\\ 0.14 2.12 r\\ 0.16 1.92 m\\ 0.19 2.05 r\\ 0.22 1.96 r\\ 0.28 2.03 r\\ 0.32 1.90 r\\ 0.45 2.06 r\\
-0.38 0.97 t\\ -0.27 0.92 r\\ -0.26 0.87 r\\ -0.12 1.08 r\\ -0.08 0.98 g\\ -0.03 0.91 r\\
0 1.13 r\\ 0 1.07 r\\ 0 1.02 r\\ 0 0.96 r\\ 0 0.90 r\\ 0 0.86 m\\ 0 1.00 g\\ 0 1.10 t\\
0.02 0.94 r\\ 0.04 1.05 t\\ 0.06 0.89 r\\ 0.08 1.12 r\\ 0.10 0.97 e\\ 0.13 1.07 r\\ 0.16 0.91 r\\ 0.19 1.11 t\\ 0.22 0.95 r\\ 0.25 1.04 t\\ 0.28 0.89 r\\ 0.31 1.08 r\\ 0.34 0.96 r\\ 0.37 1.12 r\\
0.40 0.93 m\\ 0.43 1.06 r\\ 0.47 0.88 r\\ 0.50 1.02 r\\ 0.53 0.94 r\\ 0.56 1.10 g\\ 0.60 0.97 r\\ 0.64 1.06 r\\ 0.68 0.91 r\\ 0.72 1.02 r\\ 0.76 0.95 m\\ 0.80 1.08 m\\ 0.84 0.93 r\\ 0.88 1.00 m\\ 0.90 0.88 m\\ 0.90 1.12 m\\
-0.20 1.02 r\\ 0 0.93 r\\ 0 1.05 r\\ 0.01 1.13 m\\ 0.03 0.99 r\\ 0.05 1.10 r\\ 0.07 0.92 r\\ 0.09 1.04 t\\ 0.11 0.90 r\\ 0.14 1.00 r\\ 0.17 1.12 r\\ 0.20 0.97 r\\ 0.24 1.09 r\\ 0.27 0.93 r\\
0.30 1.02 r\\ 0.33 1.10 g\\ 0.36 0.90 r\\ 0.39 1.04 r\\ 0.45 0.95 r\\ 0.48 1.10 r\\ 0.52 0.89 r\\ 0.58 1.04 r\\ 0.62 0.92 r\\ 0.66 1.11 r\\ 0.70 0.97 m\\ 0.74 1.07 r\\ 0.82 0.97 r\\ 0.86 1.11 m\\
};
\addplot[boxplot prepared={lower whisker=-0.242, lower quartile=0.199, median=0.333, upper quartile=0.503, upper whisker=0.928, draw position=3}] coordinates {};
\addplot[boxplot prepared={lower whisker=-0.66, lower quartile=-0.163, median=0.034, upper quartile=0.177, upper whisker=0.669, draw position=2}] coordinates {};
\addplot[boxplot prepared={lower whisker=-0.383, lower quartile=0.004, median=0.067, upper quartile=0.403, upper whisker=0.906, draw position=1}] coordinates {};
\end{axis}

% ---------------- Labels and legend frame ----------------
\node[anchor=north west, inner sep=0pt, font=\bfseries\fontsize{9.5}{10}\selectfont] at (1pt,-0.5pt) {A};
\node[anchor=north west, inner sep=0pt, font=\bfseries\fontsize{9.5}{10}\selectfont] at (1pt,-282pt) {B};
\node[anchor=north west, inner sep=0pt, font=\bfseries\fontsize{9.5}{10}\selectfont] at (380pt,-281pt) {C};
\node[anchor=north west, inner sep=0pt, font=\bfseries\fontsize{9.5}{10}\selectfont] at (1pt,-561.5pt) {D};
\node[anchor=north west, inner sep=0pt, font=\bfseries\fontsize{9.5}{10}\selectfont] at (378pt,-561pt) {E};
\node[anchor=base west, inner sep=0pt, font=\fontsize{11.5}{13}\selectfont] at (569pt,-20.5pt) {Color legend};
\node[anchor=base west, inner sep=0pt, font=\fontsize{8.8}{10}\selectfont] at (576pt,-55.7pt) {Network domain};
\draw[draw=axgray, line width=0.6pt] (564pt,-37pt) rectangle (739pt,-178pt);
\end{tikzpicture}
\end{document}
